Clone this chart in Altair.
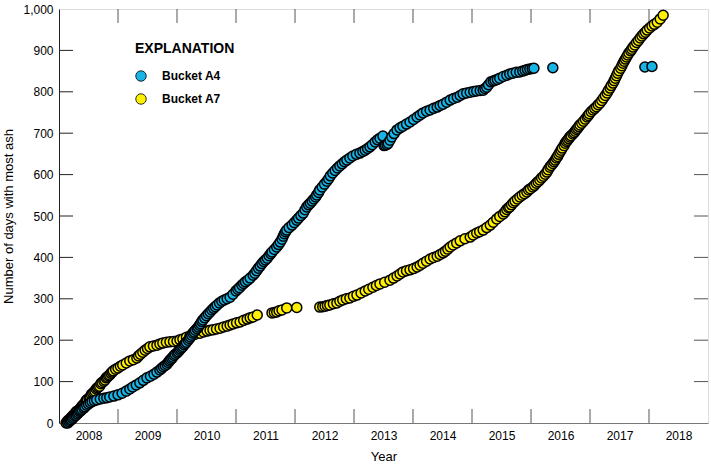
import altair as alt
import pandas as pd

# ---- data: (decimal year, cumulative days) ----
a4_points = [
    (2008.15, 0), (2008.17, 3), (2008.19, 6), (2008.21, 8), (2008.23, 11), (2008.25, 14),
    (2008.27, 17), (2008.29, 19), (2008.31, 22), (2008.33, 25), (2008.35, 28), (2008.37, 30),
    (2008.39, 33), (2008.42, 36), (2008.44, 39), (2008.47, 43), (2008.50, 46), (2008.53, 49),
    (2008.56, 52), (2008.60, 54), (2008.64, 56), (2008.70, 58), (2008.76, 60), (2008.81, 61),
    (2008.86, 63), (2008.93, 65), (2009.00, 68), (2009.07, 72), (2009.14, 77), (2009.20, 82),
    (2009.25, 87), (2009.31, 92), (2009.37, 97), (2009.43, 103), (2009.49, 109), (2009.55, 113),
    (2009.61, 118), (2009.66, 123), (2009.71, 128), (2009.74, 132), (2009.77, 136), (2009.80, 139),
    (2009.83, 142), (2009.85, 146), (2009.87, 150), (2009.89, 153), (2009.91, 156), (2009.93, 159),
    (2009.95, 163), (2009.97, 166), (2010.00, 169), (2010.02, 172), (2010.04, 176), (2010.06, 179),
    (2010.08, 182), (2010.10, 185), (2010.12, 189), (2010.14, 192), (2010.16, 195), (2010.19, 200),
    (2010.21, 204), (2010.23, 208), (2010.25, 212), (2010.27, 217), (2010.29, 220), (2010.31, 224),
    (2010.34, 228), (2010.36, 232), (2010.38, 236), (2010.40, 240), (2010.42, 245), (2010.44, 249),
    (2010.47, 254), (2010.50, 259), (2010.53, 264), (2010.56, 268), (2010.59, 273), (2010.62, 277),
    (2010.65, 281), (2010.68, 285), (2010.72, 290), (2010.76, 294), (2010.80, 297), (2010.85, 300),
    (2010.90, 304), (2010.95, 311), (2011.00, 319), (2011.03, 323), (2011.06, 327), (2011.10, 333),
    (2011.13, 337), (2011.16, 341), (2011.20, 345), (2011.24, 350), (2011.29, 357), (2011.32, 362),
    (2011.35, 368), (2011.38, 374), (2011.41, 379), (2011.44, 385), (2011.47, 390), (2011.50, 394),
    (2011.53, 398), (2011.56, 404), (2011.59, 409), (2011.61, 413), (2011.65, 419), (2011.69, 425),
    (2011.72, 431), (2011.75, 437), (2011.78, 444), (2011.80, 451), (2011.82, 457), (2011.84, 462),
    (2011.86, 466), (2011.90, 472), (2011.95, 478), (2011.99, 484), (2012.03, 490), (2012.06, 495),
    (2012.10, 501), (2012.14, 507), (2012.17, 515), (2012.20, 522), (2012.23, 527), (2012.26, 531),
    (2012.29, 536), (2012.32, 541), (2012.35, 546), (2012.37, 551), (2012.40, 557), (2012.42, 563),
    (2012.46, 570), (2012.50, 577), (2012.54, 584), (2012.57, 590), (2012.60, 597), (2012.64, 604),
    (2012.68, 610), (2012.72, 616), (2012.76, 621), (2012.80, 626), (2012.84, 631), (2012.88, 635),
    (2012.93, 640), (2012.98, 645), (2013.04, 649), (2013.10, 652), (2013.15, 656), (2013.19, 659),
    (2013.23, 663), (2013.27, 667), (2013.31, 672), (2013.36, 679), (2013.40, 684), (2013.44, 688),
    (2013.49, 693), (2013.51, 670), (2013.53, 671), (2013.56, 673), (2013.58, 676), (2013.61, 683),
    (2013.64, 691), (2013.68, 699), (2013.73, 708), (2013.78, 713), (2013.83, 717), (2013.89, 722),
    (2013.95, 727), (2014.01, 733), (2014.07, 739), (2014.12, 744), (2014.17, 749), (2014.23, 753),
    (2014.29, 756), (2014.35, 760), (2014.41, 763), (2014.46, 767), (2014.51, 770), (2014.57, 775),
    (2014.63, 780), (2014.69, 784), (2014.75, 787), (2014.80, 791), (2014.85, 795), (2014.91, 797),
    (2014.97, 799), (2015.03, 801), (2015.08, 802), (2015.14, 803), (2015.19, 804), (2015.22, 808),
    (2015.25, 811), (2015.28, 817), (2015.32, 824), (2015.36, 826), (2015.39, 828), (2015.43, 830),
    (2015.47, 833), (2015.53, 837), (2015.59, 840), (2015.64, 843), (2015.69, 845), (2015.75, 847),
    (2015.81, 848), (2015.86, 850), (2015.90, 852), (2015.94, 854), (2015.98, 855), (2016.02, 856),
    (2016.05, 857), (2016.37, 858), (2017.93, 860), (2018.05, 861),
]

a7_points = [
    (2008.12, 0), (2008.14, 4), (2008.16, 7), (2008.19, 10), (2008.21, 14), (2008.23, 17),
    (2008.25, 20), (2008.27, 22), (2008.29, 27), (2008.31, 29), (2008.34, 32), (2008.36, 34),
    (2008.38, 39), (2008.40, 42), (2008.42, 45), (2008.44, 48), (2008.46, 54), (2008.48, 57),
    (2008.51, 60), (2008.53, 63), (2008.55, 69), (2008.57, 72), (2008.59, 74), (2008.61, 77),
    (2008.63, 82), (2008.65, 85), (2008.67, 87), (2008.69, 89), (2008.71, 95), (2008.73, 98),
    (2008.76, 101), (2008.78, 104), (2008.80, 109), (2008.82, 111), (2008.84, 114), (2008.86, 116),
    (2008.88, 120), (2008.90, 123), (2008.92, 126), (2008.96, 130), (2009.00, 133), (2009.04, 137),
    (2009.08, 140), (2009.14, 145), (2009.20, 150), (2009.26, 153), (2009.32, 157), (2009.35, 162),
    (2009.38, 166), (2009.42, 171), (2009.46, 176), (2009.50, 180), (2009.54, 184), (2009.60, 186),
    (2009.66, 188), (2009.71, 191), (2009.76, 193), (2009.82, 195), (2009.88, 196), (2009.94, 197),
    (2010.00, 198), (2010.05, 201), (2010.10, 203), (2010.16, 207), (2010.22, 210), (2010.30, 214),
    (2010.39, 217), (2010.45, 220), (2010.51, 222), (2010.56, 224), (2010.61, 225), (2010.67, 227),
    (2010.73, 229), (2010.79, 232), (2010.85, 234), (2010.90, 237), (2010.95, 239), (2011.01, 242),
    (2011.07, 244), (2011.13, 248), (2011.19, 251), (2011.24, 254), (2011.29, 256), (2011.36, 261),
    (2011.61, 266), (2011.65, 267), (2011.69, 268), (2011.73, 271), (2011.78, 273), (2011.86, 278),
    (2012.03, 279), (2012.42, 280), (2012.47, 281), (2012.51, 282), (2012.55, 284), (2012.59, 285),
    (2012.65, 288), (2012.71, 290), (2012.76, 294), (2012.81, 297), (2012.87, 300), (2012.93, 302),
    (2012.99, 306), (2013.05, 309), (2013.12, 314), (2013.19, 319), (2013.25, 323), (2013.32, 328),
    (2013.38, 332), (2013.44, 336), (2013.52, 340), (2013.61, 345), (2013.67, 350), (2013.73, 355),
    (2013.78, 360), (2013.83, 365), (2013.89, 368), (2013.95, 370), (2014.01, 373), (2014.07, 377),
    (2014.12, 381), (2014.17, 386), (2014.23, 391), (2014.29, 396), (2014.35, 400), (2014.41, 403),
    (2014.46, 407), (2014.51, 411), (2014.55, 415), (2014.59, 420), (2014.63, 425), (2014.68, 430),
    (2014.74, 435), (2014.80, 440), (2014.88, 445), (2014.97, 449), (2015.02, 454), (2015.08, 459),
    (2015.13, 462), (2015.19, 466), (2015.25, 472), (2015.31, 478), (2015.36, 485), (2015.42, 493),
    (2015.47, 499), (2015.53, 505), (2015.56, 510), (2015.59, 516), (2015.62, 520), (2015.64, 522),
    (2015.67, 527), (2015.70, 532), (2015.73, 536), (2015.77, 541), (2015.81, 546), (2015.85, 550),
    (2015.89, 554), (2015.93, 558), (2015.96, 563), (2015.99, 566), (2016.03, 570), (2016.06, 574),
    (2016.09, 579), (2016.12, 583), (2016.15, 587), (2016.18, 592), (2016.21, 596), (2016.24, 601),
    (2016.27, 606), (2016.29, 612), (2016.32, 618), (2016.34, 622), (2016.37, 627), (2016.39, 631),
    (2016.41, 635), (2016.43, 640), (2016.45, 644), (2016.47, 649), (2016.49, 654), (2016.51, 659),
    (2016.53, 664), (2016.56, 670), (2016.58, 676), (2016.60, 680), (2016.62, 683), (2016.64, 687),
    (2016.66, 691), (2016.68, 694), (2016.71, 698), (2016.73, 701), (2016.75, 705), (2016.77, 709),
    (2016.79, 712), (2016.81, 716), (2016.83, 720), (2016.86, 724), (2016.89, 729), (2016.92, 734),
    (2016.95, 739), (2016.97, 743), (2016.99, 747), (2017.02, 752), (2017.05, 756), (2017.08, 760),
    (2017.11, 764), (2017.14, 769), (2017.17, 773), (2017.20, 779), (2017.23, 785), (2017.26, 791),
    (2017.29, 797), (2017.31, 803), (2017.34, 809), (2017.36, 815), (2017.39, 821), (2017.41, 827),
    (2017.43, 833), (2017.45, 839), (2017.47, 845), (2017.49, 851), (2017.52, 857), (2017.54, 863),
    (2017.56, 869), (2017.58, 874), (2017.60, 879), (2017.62, 884), (2017.64, 889), (2017.66, 894),
    (2017.69, 899), (2017.71, 903), (2017.73, 908), (2017.76, 913), (2017.79, 919), (2017.82, 924),
    (2017.85, 930), (2017.88, 935), (2017.91, 940), (2017.94, 944), (2017.97, 949), (2018.01, 954),
    (2018.05, 959), (2018.09, 963), (2018.14, 968), (2018.19, 976), (2018.24, 985),
]

series_names = ["Bucket A4", "Bucket A7"]
series_colors = ["#18B4E6", "#FFF000"]

year_label_pos = [2008.5, 2009.5, 2010.5, 2011.5, 2012.5, 2013.5, 2014.5, 2015.5, 2016.5, 2017.5, 2018.5]
year_ticks = [2009, 2010, 2011, 2012, 2013, 2014, 2015, 2016, 2017, 2018]
day_ticks = [100, 200, 300, 400, 500, 600, 700, 800, 900]

W, H = 649, 414
FONT = "Liberation Sans"

df = pd.concat([
    pd.DataFrame({"year": [p[0] for p in a7_points], "days": [p[1] for p in a7_points],
                  "series": "Bucket A7"}),
    pd.DataFrame({"year": [p[0] for p in a4_points], "days": [p[1] for p in a4_points],
                  "series": "Bucket A4"}),
], ignore_index=True)
df["ord"] = range(len(df))

xscale = alt.Scale(domain=[2008, 2019], nice=False, zero=False)
yscale = alt.Scale(domain=[0, 1000], nice=False)

points = alt.Chart(df).mark_circle(size=100, opacity=1, stroke="black", strokeWidth=1.5).encode(
    x=alt.X("year:Q", scale=xscale, title="Year",
            axis=alt.Axis(values=year_label_pos, labelExpr="floor(datum.value)", ticks=False,
                          grid=False, domainColor="#777", labelFontSize=12, labelColor="black",
                          labelFont=FONT, labelPadding=7, titleFont=FONT, titleFontSize=13,
                          titleFontWeight="normal", titleColor="black", titlePadding=9)),
    y=alt.Y("days:Q", scale=yscale, title="Number of days with most ash",
            axis=alt.Axis(values=[0] + day_ticks + [1000], format=",.0f", ticks=False, grid=False,
                          domainColor="#222", labelFontSize=12, labelColor="black", labelFont=FONT,
                          labelPadding=6, titleFont=FONT, titleFontSize=13, titleFontWeight="normal",
                          titleColor="black", titlePadding=7)),
    color=alt.Color("series:N", scale=alt.Scale(domain=series_names, range=series_colors),
                    legend=alt.Legend(title="EXPLANATION", orient="none", legendX=76, legendY=33,
                                      titleFontSize=14, titleFontWeight="bold", titleFont=FONT,
                                      titleColor="black", titlePadding=14, labelFont=FONT,
                                      labelFontSize=12, labelFontWeight="bold", labelColor="black",
                                      labelOffset=15, symbolType="circle", symbolSize=110,
                                      symbolStrokeColor="black", symbolStrokeWidth=0.8,
                                      rowPadding=9, symbolOffset=0)),
    order=alt.Order("ord:Q"),
)

xt = pd.DataFrame({"year": year_ticks})
yt = pd.DataFrame({"days": day_ticks})
tick_col = "#555"
bottom_ticks = alt.Chart(xt).mark_rule(color=tick_col, strokeWidth=1).encode(
    x=alt.X("year:Q", scale=xscale), y=alt.value(H - 14), y2=alt.value(H))
top_ticks = alt.Chart(xt).mark_rule(color=tick_col, strokeWidth=1).encode(
    x=alt.X("year:Q", scale=xscale), y=alt.value(0), y2=alt.value(14))
left_ticks = alt.Chart(yt).mark_rule(color="#222", strokeWidth=1).encode(
    y=alt.Y("days:Q", scale=yscale), x=alt.value(0), x2=alt.value(14))
right_ticks = alt.Chart(yt).mark_rule(color=tick_col, strokeWidth=1).encode(
    y=alt.Y("days:Q", scale=yscale), x=alt.value(W - 14), x2=alt.value(W))

chart = alt.layer(bottom_ticks, top_ticks, left_ticks, right_ticks, points).properties(
    width=W, height=H, autosize="none",
    padding={"left": 59, "top": 9, "right": 3, "bottom": 48},
).configure_view(stroke="#777", strokeWidth=1).configure(background="white")

chart.save("out.html", embed_options={"renderer": "svg", "actions": False})
